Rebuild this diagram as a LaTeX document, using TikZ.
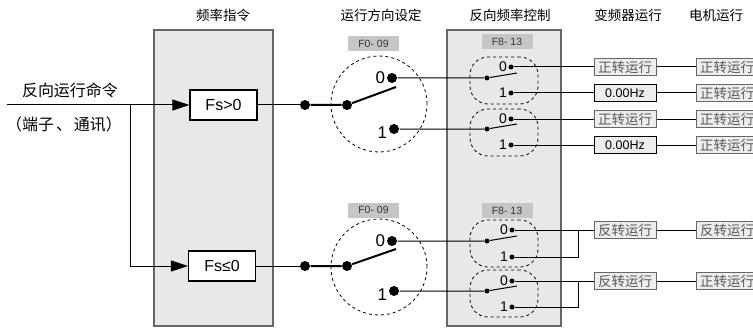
\documentclass[tikz,border=0pt]{standalone}
\usepackage{fontspec}
\setmainfont{Liberation Sans}
\newfontfamily\cjk{Noto Sans CJK SC}
\usepackage{tikz}
\usetikzlibrary{arrows.meta,positioning}
\definecolor{panelgray}{RGB}{232,232,232}
\definecolor{taggray}{RGB}{198,198,198}

\begin{document}
\begin{tikzpicture}[x=1pt, y=-1pt, line width=1pt,
    title/.style={font=\cjk\fontsize{13.5}{15}\selectfont},
    note/.style={font=\cjk\fontsize{16}{18}\selectfont},
    panel/.style={draw=black!60, fill=panelgray, line width=1.2pt},
    fsbox/.style={draw, fill=white, line width=1.2pt, minimum width=67pt, minimum height=30pt, inner sep=0, font=\fontsize{16}{18}\selectfont},
    bigdot/.style={circle, fill, inner sep=0, minimum size=10pt},
    smalldot/.style={circle, fill, inner sep=0, minimum size=5pt},
    tag/.style={fill=taggray, minimum width=51pt, minimum height=15pt, inner sep=0, text=black!80, font=\fontsize{10.5}{12}\selectfont},
    selector/.style={draw, dashed, line width=0.8pt},
    runbox/.style={draw=black!60, fill=black!7, minimum width=62pt, minimum height=17pt, inner sep=0, text=black!65, font=\cjk\fontsize{13.5}{14}\selectfont},
    hzbox/.style={runbox, draw=black, text=black, font=\fontsize{12.5}{14}\selectfont},
    bignum/.style={font=\fontsize{17}{18}\selectfont, inner sep=1pt},
    smallnum/.style={font=\fontsize{14}{14}\selectfont, inner sep=0.5pt}
]

    \useasboundingbox (0,0) rectangle (753,329);

    % column titles
    \node[title] (t1) at (223,15) {频率指令};
    \node[title] (t2) at (381,15) {运行方向设定};
    \node[title] (t3) at (510,15) {反向频率控制};
    \node[title] (t4) at (628,15) {变频器运行};
    \node[title] (t5) at (716,15) {电机运行};

    % panels
    \draw[panel] (154,30) rectangle (273,326);
    \draw[panel] (447,30) rectangle (561,326);

    % command input
    \node[note] (cmd) at (70,90) {反向运行命令};
    \node[note] (src) at (64,124) {（端子\hspace{2pt}、\hspace{2pt}通讯）};
    \coordinate (in) at (7,105);
    \coordinate (br) at (130,105);

    \node[fsbox] (fsgt) at (223.5,105) {Fs>0};
    \node[fsbox] (fsle) at (222,266) {Fs≤0};

    \draw[-{Triangle[length=17pt,width=11pt]}] (in) -- (fsgt);
    \draw[-{Triangle[length=17pt,width=11pt]}] (br) |- (fsle);

    % direction setting F0-09
    \node[tag] (f09a) at (373.5,43.5) {F0- 09};
    \node[selector, circle, minimum size=96pt] (dir1) at (379,104) {};
    \node[bigdot] (d1) at (305,105) {};
    \node[bigdot] (pv1) at (347,105) {};
    \node[bigdot, label={[bignum]left:0}] (k10) at (392,78) {};
    \node[bigdot, label={[bignum, yshift=-4pt]left:1}] (k11) at (394,129) {};
    \coordinate (bl1) at (396,87);

    \node[tag] (f09b) at (373.5,210) {F0- 09};
    \node[selector, circle, minimum size=96pt] (dir2) at (379,267) {};
    \node[bigdot] (d2) at (305,266) {};
    \node[bigdot] (pv2) at (347,266) {};
    \node[bigdot, label={[bignum]left:0}] (k20) at (392,241) {};
    \node[bigdot, label={[bignum, yshift=-4pt]left:1}] (k21) at (394,291) {};
    \coordinate (bl2) at (396,249);

    \draw (fsgt) -- (d1);
    \draw (fsle) -- (d2);
    \draw[line width=2pt] (d1) -- (pv1) -- (bl1);
    \draw[line width=2pt] (d2) -- (pv2) -- (bl2);

    % reverse frequency control F8-13
    \node[tag] (f813a) at (507,42) {F8- 13};
    \node[tag] (f813b) at (507,210.5) {F8- 13};

    \node[selector, rounded corners=18pt, minimum width=68pt, minimum height=47pt] (g1) at (504,80.5) {};
    \node[smalldot] (s1) at (487,78) {};
    \node[smalldot, label={[smallnum]left:0}] (a0) at (511,67) {};
    \node[smalldot, label={[smallnum]left:1}] (a1) at (511,93) {};
    \coordinate (e1) at (517,73);

    \node[selector, rounded corners=18pt, minimum width=68pt, minimum height=47pt] (g2) at (504,132.5) {};
    \node[smalldot] (s2) at (487,129) {};
    \node[smalldot, label={[smallnum]left:0}] (b0) at (511,119) {};
    \node[smalldot, label={[smallnum]left:1}] (b1) at (511,145) {};
    \coordinate (e2) at (517,124);

    \node[selector, rounded corners=18pt, minimum width=68pt, minimum height=47pt] (g3) at (504,243.5) {};
    \node[smalldot] (s3) at (487,241) {};
    \node[smalldot, label={[smallnum]left:0}] (c0) at (512,230) {};
    \node[smalldot, label={[smallnum]left:1}] (c1) at (512,257) {};
    \coordinate (e3) at (517,236);

    \node[selector, rounded corners=18pt, minimum width=68pt, minimum height=47pt] (g4) at (504,293.5) {};
    \node[smalldot] (s4) at (487,291) {};
    \node[smalldot, label={[smallnum]left:0}] (h0) at (512,281) {};
    \node[smalldot, label={[smallnum]left:1}] (h1) at (512,307) {};
    \coordinate (e4) at (517,286);

    \draw (k10) -- (s1) -- (e1);
    \draw (k11) -- (s2) -- (e2);
    \draw (k20) -- (s3) -- (e3);
    \draw (k21) -- (s4) -- (e4);

    % inverter and motor states
    \node[runbox] (r1) at (625,67) {正转运行};
    \node[hzbox] (r2) at (625,93) {0.00Hz};
    \node[runbox] (r3) at (625,119) {正转运行};
    \node[hzbox] (r4) at (625,145) {0.00Hz};
    \node[runbox] (r5) at (625,230) {反转运行};
    \node[runbox] (r6) at (625,281) {反转运行};

    \node[runbox, right=39pt of r1] (m1) {正转运行};
    \node[runbox, right=39pt of r2] (m2) {正转运行};
    \node[runbox, right=39pt of r3] (m3) {正转运行};
    \node[runbox, right=39pt of r4] (m4) {正转运行};
    \node[runbox, right=39pt of r5] (m5) {反转运行};
    \node[runbox, right=39pt of r6] (m6) {正转运行};

    \coordinate (j1) at (578,230);
    \coordinate (j2) at (578,281);

    \draw (a0) -- (r1);
    \draw (a1) -- (r2);
    \draw (b0) -- (r3);
    \draw (b1) -- (r4);
    \draw (c0) -- (r5);
    \draw (c1) -| (j1);
    \draw (h0) -- (r6);
    \draw (h1) -| (j2);

    \draw (r1) -- (m1);
    \draw (r2) -- (m2);
    \draw (r3) -- (m3);
    \draw (r4) -- (m4);
    \draw (r5) -- (m5);
    \draw (r6) -- (m6);

\end{tikzpicture}
\end{document}
